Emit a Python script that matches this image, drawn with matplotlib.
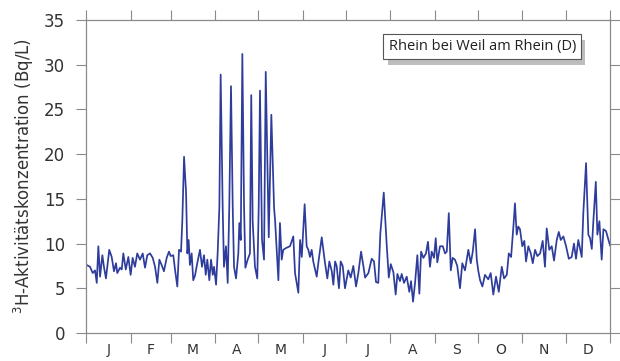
import matplotlib
matplotlib.use("Agg")
import matplotlib.pyplot as plt
import matplotlib.patheffects as pe
import numpy as np

# tritium activity, Rhine at Weil am Rhein, day of year vs Bq/L
days = [0.5, 2.8, 4.7, 6.3, 7.5, 8.6, 9.8, 11.4, 12.5, 13.9, 16.2, 17.9, 19.5, 20.9,
        21.8, 23.7, 24.9, 26.0, 27.7, 29.5, 31.1, 32.5, 34.1, 35.7, 37.6, 39.5, 41.1,
        42.7, 44.6, 46.5, 48.1, 49.7, 51.1, 52.7, 54.3, 56.2, 57.8, 59.0, 60.8, 62.0,
        63.6, 64.8, 66.2, 67.1, 68.3, 69.7, 70.6, 71.5, 72.4, 73.6, 74.7, 75.9, 77.5,
        79.4, 80.8, 82.2, 83.4, 84.5, 85.9, 87.1, 88.3, 89.2, 90.6, 91.7, 92.9, 93.8,
        95.2, 96.1, 97.5, 98.7, 99.8, 101.0, 102.2, 103.1, 104.5, 106.1, 106.8, 107.8,
        108.9, 110.1, 111.0, 112.6, 114.2, 115.1, 116.1, 117.7, 119.3, 120.3, 121.2,
        122.6, 124.0, 125.2, 126.6, 127.3, 129.1, 131.0, 131.7, 134.0, 135.1, 136.3,
        137.4, 139.3, 142.1, 144.4, 145.6, 147.9, 149.1, 150.3, 152.3, 153.7, 154.9,
        156.0, 157.2, 158.3, 160.7, 161.8, 164.2, 166.5, 168.1, 169.5, 171.2, 172.3,
        173.5, 174.6, 176.2, 177.4, 178.8, 180.4, 182.7, 184.4, 186.2, 188.1, 189.7,
        191.6, 193.2, 194.4, 196.7, 199.0, 200.6, 202.0, 203.6, 205.0, 207.4, 209.4,
        210.9, 212.3, 214.1, 215.7, 216.9, 218.7, 219.9, 221.5, 223.4, 225.2, 226.4,
        227.8, 229.2, 230.8, 232.2, 233.4, 235.0, 236.8, 238.2, 239.6, 240.8, 242.4,
        243.6, 244.7, 246.6, 248.5, 250.1, 251.3, 252.7, 254.1, 255.4, 257.0, 258.6,
        260.5, 262.1, 264.0, 266.3, 268.0, 269.4, 271.0, 272.2, 273.3, 274.5, 276.1,
        277.9, 280.2, 281.9, 283.7, 285.6, 287.5, 289.6, 291.2, 293.1, 294.5, 296.1,
        297.7, 298.8, 300.0, 301.1, 302.3, 303.9, 305.3, 306.5, 308.1, 309.8, 311.2,
        312.8, 314.4, 316.3, 318.1, 319.7, 320.9, 322.7, 324.4, 326.0, 327.9, 329.3,
        330.7, 332.5, 334.4, 336.3, 338.3, 339.9, 341.3, 342.9, 345.3, 346.4, 348.3,
        349.9, 351.1, 352.3, 353.4, 355.1, 356.2, 357.6, 359.2, 360.4, 362.2, 363.8,
        365.0]
tritium = [7.6, 7.4, 6.7, 7.0, 5.6, 9.7, 6.3, 8.7, 7.4, 6.1, 9.3, 8.5, 6.9, 7.8,
           6.7, 7.3, 7.1, 8.9, 7.1, 8.5, 6.5, 8.4, 7.4, 8.9, 8.2, 8.9, 7.3,
           8.7, 8.9, 8.4, 7.4, 5.6, 8.2, 7.6, 6.9, 8.4, 9.1, 8.6, 8.7, 7.1,
           5.2, 9.3, 9.1, 12.6, 19.7, 15.7, 8.9, 10.4, 7.6, 8.9, 5.9, 6.4, 7.8,
           9.3, 7.4, 8.7, 6.5, 8.2, 5.9, 8.2, 6.5, 7.4, 5.4, 8.9, 14.1, 28.9,
           14.1, 7.4, 9.7, 5.6, 14.1, 27.6, 14.1, 7.4, 6.1, 8.9, 12.3, 10.4,
           31.2, 14.1, 7.3, 8.2, 8.9, 26.6, 12.5, 7.4, 6.1, 14.1, 27.1,
           10.4, 8.2, 29.2, 16.5, 10.7, 24.4, 14.0, 12.6, 5.9, 12.3, 8.2,
           9.3, 9.5, 9.7, 10.8, 6.7, 4.5, 10.4, 8.5, 14.4, 9.7, 9.3,
           8.5, 9.3, 8.0, 6.3, 7.8, 10.7, 7.8, 6.1, 8.0, 6.9, 5.4,
           8.0, 7.5, 5.0, 8.0, 7.5, 5.0, 7.0, 6.2, 7.5, 5.2, 6.7,
           9.1, 7.5, 6.2, 6.7, 8.3, 8.0, 5.7, 5.6, 11.1, 15.7, 10.0,
           6.2, 7.7, 6.8, 4.3, 6.6, 5.8, 6.6, 5.6, 6.3, 4.6, 5.8,
           3.5, 5.6, 8.7, 4.4, 9.1, 8.4, 8.9, 10.2, 7.4, 9.1, 8.4,
           10.6, 7.9, 9.7, 9.7, 8.9, 9.1, 13.4, 7.0, 8.4, 8.2, 7.5,
           5.0, 7.8, 7.0, 9.3, 7.8, 9.1, 11.6, 8.2, 6.9, 5.9, 5.2,
           6.5, 6.0, 6.7, 4.3, 6.3, 4.6, 7.4, 6.1, 6.5, 8.9, 8.5,
           11.9, 14.5, 11.0, 11.9, 11.6, 9.7, 10.3, 8.0, 9.7, 8.9, 7.8,
           9.3, 8.6, 8.9, 10.3, 7.4, 11.7, 9.3, 9.7, 8.1, 10.4, 11.3,
           10.4, 10.8, 9.7, 8.3, 8.5, 10.0, 8.3, 10.4, 8.5, 13.4, 19.0,
           11.0, 10.6, 9.4, 12.5, 16.9, 11.0, 12.5, 8.2, 11.6, 11.4, 10.5,
           9.8]

month_starts = [0, 31, 59, 90, 120, 151, 181, 212, 243, 273, 304, 334, 365]
month_labels = ["J", "F", "M", "A", "M", "J", "J", "A", "S", "O", "N", "D"]
y_ticks = [0, 5, 10, 15, 20, 25, 30, 35]

grey = "#8a8a8a"
plt.rcParams["font.family"] = "DejaVu Sans"

fig = plt.figure(figsize=(6.2, 3.61), dpi=100)
ax = fig.add_axes([0.1387, 0.0776, 0.8452, 0.867])

ax.plot(days, tritium, color="#2e3d9c", lw=1.25)

ax.set_xlim(0, 365)
ax.set_ylim(0, 35)

# month boundaries as ticks, letters centred in each month
mids = [(a + b) / 2 for a, b in zip(month_starts[:-1], month_starts[1:])]
ax.set_xticks(month_starts)
ax.set_xticklabels([])
ax.set_xticks(mids, minor=True)
ax.set_xticklabels(month_labels, minor=True)
ax.tick_params(axis="x", which="minor", length=0, pad=7.5, labelsize=10,
               labelcolor="#333333")
ax.tick_params(axis="x", which="major", direction="out", length=7,
               color=grey, top=True)
ax.set_yticks(y_ticks)
ax.tick_params(axis="y", direction="out", length=7, color=grey, right=True,
               labelsize=12, labelcolor="#333333", pad=8)

for s in ax.spines.values():
    s.set_color(grey)
    s.set_linewidth(0.9)

ax.set_ylabel("$^{3}$H-Aktivitätskonzentration (Bq/L)", fontsize=12,
              color="#333333", labelpad=6)

t = ax.text(0.935, 0.915, "Rhein bei Weil am Rhein (D)", transform=ax.transAxes,
            ha="right", va="center", fontsize=10.5, family="Open Sans",
            color="#222222",
            bbox=dict(boxstyle="square,pad=0.35", fc="white", ec="#555555", lw=0.8))
t.get_bbox_patch().set_path_effects([
    pe.withSimplePatchShadow(offset=(3, -4), shadow_rgbFace="#888888", alpha=0.55)
])

fig.savefig("out.png", dpi=100)
